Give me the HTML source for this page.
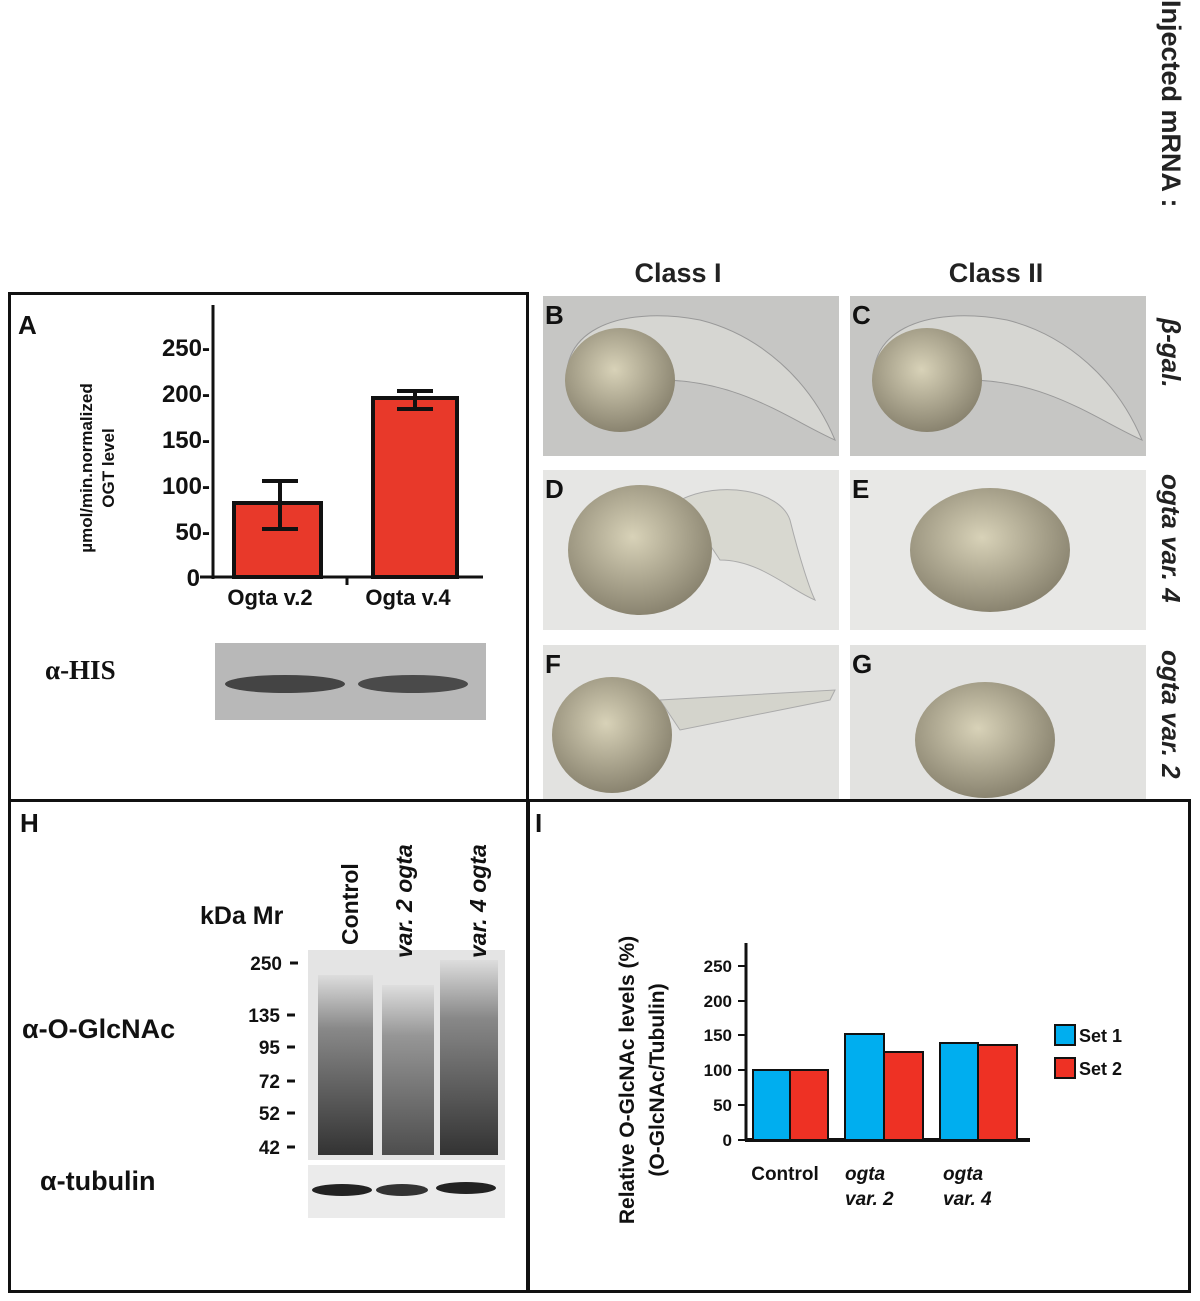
<!DOCTYPE html>
<html><head><meta charset="utf-8"><style>
body{margin:0;background:#fff}
svg text{font-family:"Liberation Sans",sans-serif;font-weight:bold}
</style></head><body>
<svg width="1200" height="1296" viewBox="0 0 1200 1296" xmlns="http://www.w3.org/2000/svg">
<defs>
<radialGradient id="yolk" cx="45%" cy="40%" r="60%"><stop offset="0" stop-color="#d8d2b8"/><stop offset="1" stop-color="#8a8470"/></radialGradient>
<linearGradient id="blot" x1="0" y1="0" x2="0" y2="1"><stop offset="0" stop-color="#ddd"/><stop offset="0.3" stop-color="#888"/><stop offset="1" stop-color="#333"/></linearGradient>
</defs>
<text transform="translate(1162,0) rotate(90)" font-size="27" fill="#222">Injected mRNA :</text>
<text x="678" y="282" font-size="27" text-anchor="middle" fill="#222">Class I</text>
<text x="996" y="282" font-size="27" text-anchor="middle" fill="#222">Class II</text>
<text transform="translate(1162,318) rotate(90)" font-size="26" font-style="italic" fill="#222">β-gal.</text>
<text transform="translate(1162,474) rotate(90)" font-size="26" font-style="italic" fill="#222">ogta var. 4</text>
<text transform="translate(1162,650) rotate(90)" font-size="26" font-style="italic" fill="#222">ogta var. 2</text>
<g>
<rect x="543" y="296" width="296" height="160" fill="#c6c6c4"/>
<rect x="850" y="296" width="296" height="160" fill="#c6c6c4"/>
<rect x="543" y="470" width="296" height="160" fill="#e6e6e4"/>
<rect x="850" y="470" width="296" height="160" fill="#e8e8e6"/>
<rect x="543" y="645" width="296" height="156" fill="#e2e2e0"/>
<rect x="850" y="645" width="296" height="156" fill="#e2e2e0"/>
<path d="M570,400 C550,330 620,305 700,320 C760,335 810,380 835,440 C790,420 740,380 660,380 Z" fill="#d6d6d2" stroke="#999"/>
<ellipse cx="620" cy="380" rx="55" ry="52" fill="url(#yolk)"/>
<path d="M877,400 C857,330 927,305 1007,320 C1067,335 1117,380 1142,440 C1097,420 1047,380 967,380 Z" fill="#d6d6d2" stroke="#999"/>
<ellipse cx="927" cy="380" rx="55" ry="52" fill="url(#yolk)"/>
<path d="M680,500 C720,480 780,490 790,520 C800,560 810,590 815,600 C790,590 760,560 720,560 Z" fill="#d8d8d0" stroke="#aaa"/>
<ellipse cx="640" cy="550" rx="72" ry="65" fill="url(#yolk)"/>
<ellipse cx="990" cy="550" rx="80" ry="62" fill="url(#yolk)"/>
<path d="M660,700 L835,690 L830,700 L680,730 Z" fill="#d4d4cc" stroke="#aaa"/>
<ellipse cx="612" cy="735" rx="60" ry="58" fill="url(#yolk)"/>
<ellipse cx="985" cy="740" rx="70" ry="58" fill="url(#yolk)"/>
<text x="545" y="324" font-size="26" fill="#111">B</text>
<text x="852" y="324" font-size="26" fill="#111">C</text>
<text x="545" y="498" font-size="26" fill="#111">D</text>
<text x="852" y="498" font-size="26" fill="#111">E</text>
<text x="545" y="673" font-size="26" fill="#111">F</text>
<text x="852" y="673" font-size="26" fill="#111">G</text>
</g>
<rect x="9.5" y="293.5" width="518" height="507" fill="none" stroke="#111" stroke-width="3"/>
<rect x="9.5" y="800.5" width="518" height="491" fill="none" stroke="#111" stroke-width="3"/>
<rect x="528.5" y="800.5" width="661" height="491" fill="none" stroke="#111" stroke-width="3"/>
<text x="18" y="334" font-size="26" fill="#111">A</text>
<text transform="translate(92,468) rotate(-90)" font-size="17" text-anchor="middle" fill="#111">µmol/min.normalized</text>
<text transform="translate(114,468) rotate(-90)" font-size="17" text-anchor="middle" fill="#111">OGT level</text>
<g font-size="24" fill="#111" text-anchor="end">
<text x="210" y="356">250-</text><text x="210" y="402">200-</text><text x="210" y="448">150-</text>
<text x="210" y="494">100-</text><text x="210" y="540">50-</text><text x="200" y="586">0</text>
</g>
<line x1="213" y1="305" x2="213" y2="579" stroke="#111" stroke-width="3"/>
<line x1="200" y1="577" x2="483" y2="577" stroke="#111" stroke-width="3"/>
<line x1="347" y1="577" x2="347" y2="585" stroke="#111" stroke-width="3"/>
<rect x="234" y="503" width="87" height="74" fill="#e8392a" stroke="#111" stroke-width="4"/>
<rect x="373" y="398" width="84" height="179" fill="#e8392a" stroke="#111" stroke-width="4"/>
<g stroke="#111" stroke-width="4">
<line x1="280" y1="481" x2="280" y2="529"/><line x1="262" y1="481" x2="298" y2="481"/><line x1="262" y1="529" x2="298" y2="529"/>
<line x1="415" y1="390" x2="415" y2="409"/><line x1="397" y1="391" x2="433" y2="391"/><line x1="397" y1="409" x2="433" y2="409"/>
</g>
<text x="270" y="605" font-size="22" text-anchor="middle" fill="#111">Ogta v.2</text>
<text x="408" y="605" font-size="22" text-anchor="middle" fill="#111">Ogta v.4</text>
<text x="45" y="679" font-size="27" style="font-family:'Liberation Serif',serif" fill="#111">α-HIS</text>
<rect x="215" y="643" width="271" height="77" fill="#b8b8b8"/>
<ellipse cx="285" cy="684" rx="60" ry="9" fill="#444"/>
<ellipse cx="413" cy="684" rx="55" ry="9" fill="#4a4a4a"/>
<text x="20" y="832" font-size="26" fill="#111">H</text>
<text x="200" y="924" font-size="25" fill="#111">kDa Mr</text>
<rect x="308" y="950" width="197" height="210" fill="#e4e4e4"/>
<rect x="318" y="975" width="55" height="180" fill="url(#blot)"/>
<rect x="382" y="985" width="52" height="170" fill="url(#blot)" opacity="0.85"/>
<rect x="440" y="960" width="58" height="195" fill="url(#blot)"/>
<text transform="translate(358,945) rotate(-90)" font-size="23" fill="#111">Control</text>
<text transform="translate(412,958) rotate(-90)" font-size="23" font-style="italic" fill="#111">var. 2 ogta</text>
<text transform="translate(486,958) rotate(-90)" font-size="23" font-style="italic" fill="#111">var. 4 ogta</text>
<g font-size="19" fill="#111" text-anchor="end">
<text x="282" y="970">250</text><text x="280" y="1022">135</text><text x="280" y="1054">95</text>
<text x="280" y="1088">72</text><text x="280" y="1120">52</text><text x="280" y="1154">42</text>
</g>
<g stroke="#111" stroke-width="3"><line x1="290" y1="963" x2="298" y2="963"/><line x1="287" y1="1015" x2="295" y2="1015"/><line x1="287" y1="1047" x2="295" y2="1047"/><line x1="287" y1="1081" x2="295" y2="1081"/><line x1="287" y1="1113" x2="295" y2="1113"/><line x1="287" y1="1147" x2="295" y2="1147"/></g>
<text x="22" y="1038" font-size="27" fill="#111">α-O-GlcNAc</text>
<rect x="308" y="1165" width="197" height="53" fill="#ebebeb"/>
<ellipse cx="342" cy="1190" rx="30" ry="6" fill="#222"/>
<ellipse cx="402" cy="1190" rx="26" ry="6" fill="#333"/>
<ellipse cx="466" cy="1188" rx="30" ry="6" fill="#222"/>
<text x="40" y="1190" font-size="27" fill="#111">α-tubulin</text>
<text x="535" y="832" font-size="26" fill="#111">I</text>
<text transform="translate(634,1080) rotate(-90)" font-size="21" text-anchor="middle" fill="#111">Relative O-GlcNAc levels (%)</text>
<text transform="translate(664,1080) rotate(-90)" font-size="21" text-anchor="middle" fill="#111">(O-GlcNAc/Tubulin)</text>
<g font-size="17" fill="#111" text-anchor="end">
<text x="732" y="972">250</text><text x="732" y="1007">200</text><text x="732" y="1041">150</text>
<text x="732" y="1076">100</text><text x="732" y="1111">50</text><text x="732" y="1146">0</text>
</g>
<g stroke="#111" stroke-width="2"><line x1="738" y1="966" x2="745" y2="966"/><line x1="738" y1="1001" x2="745" y2="1001"/><line x1="738" y1="1035" x2="745" y2="1035"/><line x1="738" y1="1070" x2="745" y2="1070"/><line x1="738" y1="1105" x2="745" y2="1105"/><line x1="738" y1="1140" x2="745" y2="1140"/></g>
<line x1="746" y1="943" x2="746" y2="1141" stroke="#111" stroke-width="3"/>
<line x1="745" y1="1140" x2="1030" y2="1140" stroke="#111" stroke-width="4"/>
<g stroke="#111" stroke-width="2">
<rect x="753" y="1070" width="37" height="70" fill="#00aeef"/>
<rect x="790" y="1070" width="38" height="70" fill="#ee3124"/>
<rect x="845" y="1034" width="39" height="106" fill="#00aeef"/>
<rect x="884" y="1052" width="39" height="88" fill="#ee3124"/>
<rect x="940" y="1043" width="38" height="97" fill="#00aeef"/>
<rect x="978" y="1045" width="39" height="95" fill="#ee3124"/>
<rect x="1055" y="1025" width="20" height="20" fill="#00aeef"/>
<rect x="1055" y="1058" width="20" height="20" fill="#ee3124"/>
</g>
<text x="1079" y="1042" font-size="18" fill="#111">Set 1</text>
<text x="1079" y="1075" font-size="18" fill="#111">Set 2</text>
<text x="785" y="1180" font-size="19" text-anchor="middle" fill="#111">Control</text>
<text x="845" y="1180" font-size="19" font-style="italic" fill="#111">ogta</text>
<text x="845" y="1205" font-size="19" font-style="italic" fill="#111">var. 2</text>
<text x="943" y="1180" font-size="19" font-style="italic" fill="#111">ogta</text>
<text x="943" y="1205" font-size="19" font-style="italic" fill="#111">var. 4</text>
</svg>
</body></html>
